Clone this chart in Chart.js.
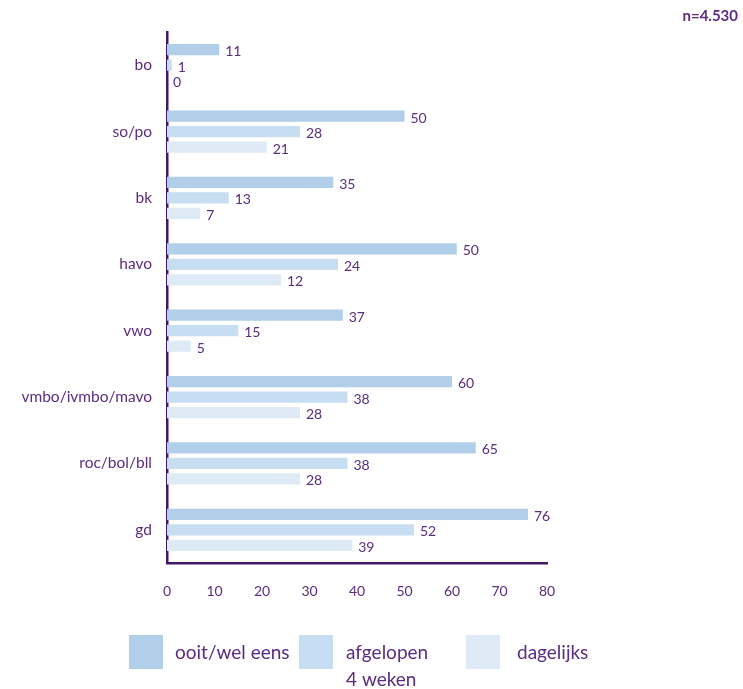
<!DOCTYPE html>
<html>
<head>
<meta charset="utf-8">
<script src="https://cdn.jsdelivr.net/npm/chart.js@4/dist/chart.umd.min.js"></script>
<style>
  html, body { margin: 0; padding: 0; background: #fff; }
  #wrap { width: 743px; height: 689px; position: relative; }
</style>
</head>
<body>
<div id="wrap"><canvas id="myChart"></canvas></div>
<script>
const categories = ['bo', 'so/po', 'bk', 'havo', 'vwo', 'vmbo/ivmbo/mavo', 'roc/bol/bll', 'gd'];
const seriesNames = ['ooit/wel eens', 'afgelopen\n4 weken', 'dagelijks'];
// bar lengths as drawn
const ooit = [11, 50, 35, 61, 37, 60, 65, 76];
const afgelopen = [1, 28, 13, 36, 15, 38, 38, 52];
const dagelijks = [0, 21, 7, 24, 5, 28, 28, 39];
// numbers printed next to the bars (havo differs from its bars in the source)
const ooitLabels = [11, 50, 35, 50, 37, 60, 65, 76];
const afgelopenLabels = [1, 28, 13, 24, 15, 38, 38, 52];
const dagelijksLabels = [0, 21, 7, 12, 5, 28, 28, 39];
const xTicks = [0, 10, 20, 30, 40, 50, 60, 70, 80];
const sampleSize = 'n=4.530';

const colors = ['#b1cfe8', '#c7ddf1', '#deebf7'];
const textColor = '#5b2c7f';
const axisColor = '#3f176b';
const fontFamily = 'Lato, "Open Sans", sans-serif';

const valueLabels = {
  id: 'valueLabels',
  afterDatasetsDraw(chart) {
    const ctx = chart.ctx;
    ctx.save();
    ctx.font = '14px ' + fontFamily;
    ctx.fillStyle = textColor;
    ctx.textAlign = 'left';
    ctx.textBaseline = 'middle';
    chart.data.datasets.forEach((ds, i) => {
      chart.getDatasetMeta(i).data.forEach((bar, j) => {
        ctx.fillText(String(ds.printed[j]), bar.x + 6, bar.y + 2);
      });
    });
    ctx.restore();
  }
};

const extras = {
  id: 'extras',
  afterDraw(chart) {
    const ctx = chart.ctx;
    ctx.save();
    ctx.fillStyle = textColor;
    ctx.font = 'bold 15px ' + fontFamily;
    ctx.textAlign = 'right';
    ctx.textBaseline = 'middle';
    ctx.fillText(sampleSize, 738, 16);
    // legend
    const boxX = [129, 299, 466];
    const textX = [175, 346, 517];
    ctx.font = '19px ' + fontFamily;
    ctx.textAlign = 'left';
    chart.data.datasets.forEach((ds, i) => {
      ctx.fillStyle = ds.backgroundColor;
      ctx.fillRect(boxX[i], 635, 34, 34);
      ctx.fillStyle = textColor;
      ds.label.split('\n').forEach((line, k) => {
        ctx.fillText(line, textX[i], 653 + k * 27);
      });
    });
    ctx.restore();
  }
};

new Chart(document.getElementById('myChart'), {
  type: 'bar',
  data: {
    labels: categories,
    datasets: [
      { label: seriesNames[0], data: ooit, printed: ooitLabels, backgroundColor: colors[0] },
      { label: seriesNames[1], data: afgelopen, printed: afgelopenLabels, backgroundColor: colors[1] },
      { label: seriesNames[2], data: dagelijks, printed: dagelijksLabels, backgroundColor: colors[2] }
    ]
  },
  plugins: [valueLabels, extras],
  options: {
    indexAxis: 'y',
    responsive: true,
    maintainAspectRatio: false,
    animation: false,
    categoryPercentage: 0.7,
    barPercentage: 0.72,
    layout: { padding: { top: 32, right: 196, bottom: 0, left: 0 } },
    plugins: {
      legend: { display: false },
      tooltip: { enabled: false }
    },
    scales: {
      x: {
        min: 0,
        max: 80,
        afterBuildTicks: s => { s.ticks = xTicks.map(v => ({ value: v })); },
        afterFit: s => { s.height = 126; },
        grid: { display: false, drawTicks: false },
        border: { color: axisColor, width: 2.5 },
        ticks: { color: textColor, font: { family: fontFamily, size: 14 }, padding: 20 }
      },
      y: {
        afterFit: s => { s.width = 167; },
        grid: { display: false, drawTicks: false },
        border: { color: axisColor, width: 2.5 },
        ticks: { color: textColor, font: { family: fontFamily, size: 15.5 }, padding: 15 }
      }
    }
  }
});
</script>
</body>
</html>
